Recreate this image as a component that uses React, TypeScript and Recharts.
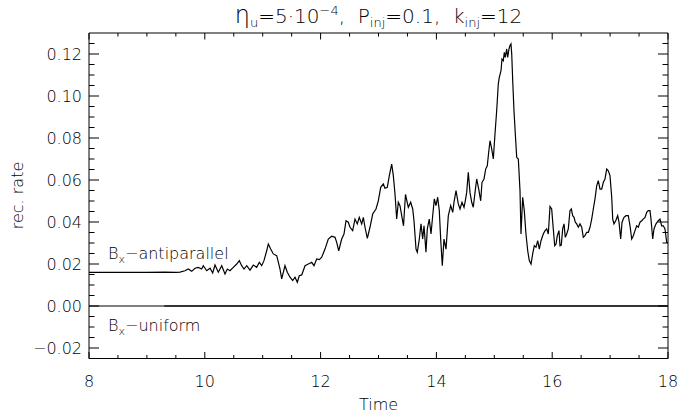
import React from "react"
import { LineChart, Line, XAxis, YAxis, ReferenceArea } from "recharts"

// axis ticks (minor every 0.5 / 0.005, labels on the majors)
const TIME_TICKS = [8, 8.5, 9, 9.5, 10, 10.5, 11, 11.5, 12, 12.5, 13, 13.5, 14, 14.5, 15, 15.5, 16, 16.5, 17, 17.5, 18]
const TIME_LABELS = [8, 10, 12, 14, 16, 18]
const RATE_TICKS = [
  -0.02, -0.015, -0.01, -0.005, 0, 0.005, 0.01, 0.015, 0.02, 0.025, 0.03, 0.035, 0.04, 0.045, 0.05,
  0.055, 0.06, 0.065, 0.07, 0.075, 0.08, 0.085, 0.09, 0.095, 0.1, 0.105, 0.11, 0.115, 0.12, 0.125,
]
const RATE_LABELS = [-0.02, 0, 0.02, 0.04, 0.06, 0.08, 0.1, 0.12]

// reconnection rate, Bx antiparallel run
const antiparallelTime = [
  8.0, 8.5, 9.0, 9.3, 9.5, 9.572, 9.658, 9.715, 9.774, 9.831, 9.888, 9.946, 9.974, 10.033, 10.09, 10.136,
  10.176, 10.233, 10.292, 10.349, 10.389, 10.435, 10.492, 10.551, 10.596, 10.637, 10.677, 10.724, 10.781,
  10.838, 10.896, 10.941, 10.983, 11.022, 11.069, 11.097, 11.138, 11.183, 11.242, 11.299, 11.328, 11.385,
  11.425, 11.472, 11.518, 11.558, 11.598, 11.632, 11.674, 11.731, 11.788, 11.846, 11.886, 11.933, 11.978,
  12.019, 12.076, 12.133, 12.192, 12.249, 12.278, 12.313, 12.364, 12.404, 12.439, 12.478, 12.508, 12.554,
  12.594, 12.634, 12.668, 12.71, 12.738, 12.767, 12.807, 12.853, 12.9, 12.957, 12.997, 13.038, 13.083,
  13.112, 13.152, 13.187, 13.228, 13.256, 13.285, 13.314, 13.342, 13.371, 13.401, 13.432, 13.466, 13.515,
  13.556, 13.591, 13.613, 13.648, 13.67, 13.705, 13.734, 13.763, 13.786, 13.82, 13.843, 13.877, 13.907,
  13.936, 13.964, 13.993, 14.022, 14.05, 14.074, 14.102, 14.131, 14.166, 14.206, 14.247, 14.282, 14.304,
  14.339, 14.378, 14.408, 14.442, 14.477, 14.499, 14.523, 14.551, 14.58, 14.61, 14.637, 14.667, 14.696,
  14.731, 14.765, 14.788, 14.822, 14.851, 14.879, 14.903, 14.926, 14.955, 14.983, 15.012, 15.041, 15.069,
  15.086, 15.116, 15.133, 15.155, 15.173, 15.19, 15.214, 15.231, 15.254, 15.271, 15.288, 15.301, 15.318,
  15.34, 15.363, 15.387, 15.415, 15.444, 15.461, 15.49, 15.518, 15.547, 15.577, 15.604, 15.634, 15.663,
  15.691, 15.72, 15.75, 15.777, 15.807, 15.846, 15.876, 15.905, 15.933, 15.962, 15.991, 16.019, 16.043,
  16.066, 16.088, 16.117, 16.135, 16.157, 16.181, 16.204, 16.226, 16.25, 16.278, 16.307, 16.33, 16.354,
  16.377, 16.399, 16.423, 16.451, 16.48, 16.51, 16.537, 16.566, 16.596, 16.624, 16.653, 16.682, 16.71,
  16.739, 16.769, 16.796, 16.826, 16.855, 16.883, 16.912, 16.941, 16.969, 16.998, 17.028, 17.045, 17.067,
  17.097, 17.131, 17.154, 17.183, 17.206, 17.24, 17.275, 17.314, 17.344, 17.373, 17.401, 17.43, 17.459,
  17.487, 17.516, 17.546, 17.573, 17.603, 17.632, 17.66, 17.689, 17.706, 17.736, 17.758, 17.793, 17.832,
  17.862, 17.891, 17.919, 17.948, 17.978, 18.0,
]
const antiparallelRate = [
  0.016, 0.016, 0.016, 0.0161, 0.016, 0.0161, 0.0168, 0.0176, 0.0165, 0.018, 0.0184, 0.0176, 0.0192, 0.0168,
  0.018, 0.0157, 0.0195, 0.0161, 0.0192, 0.0152, 0.0176, 0.0168, 0.0184, 0.02, 0.0216, 0.0192, 0.0176,
  0.0192, 0.0171, 0.0195, 0.0184, 0.0208, 0.0192, 0.0216, 0.0263, 0.0295, 0.0271, 0.0248, 0.024, 0.0176,
  0.0129, 0.0192, 0.0161, 0.0137, 0.0121, 0.0137, 0.0113, 0.0144, 0.0148, 0.0192, 0.02, 0.0208, 0.0192,
  0.0224, 0.0221, 0.0232, 0.0271, 0.0319, 0.0332, 0.0327, 0.0303, 0.0263, 0.0319, 0.0343, 0.0406, 0.0399,
  0.0375, 0.0359, 0.0414, 0.0391, 0.0422, 0.0391, 0.0422, 0.0375, 0.0322, 0.0375, 0.0438, 0.0462, 0.0501,
  0.0565, 0.0581, 0.0561, 0.0565, 0.0621, 0.0676, 0.0621, 0.0533, 0.0414, 0.0494, 0.0478, 0.043, 0.0382,
  0.0531, 0.047, 0.0494, 0.0462, 0.0406, 0.0271, 0.0256, 0.0319, 0.0391, 0.0319, 0.0382, 0.0256, 0.0367,
  0.0414, 0.0343, 0.043, 0.051, 0.0478, 0.0518, 0.0454, 0.0319, 0.0192, 0.0319, 0.0271, 0.043, 0.0478,
  0.0446, 0.0494, 0.0549, 0.0486, 0.0462, 0.0494, 0.047, 0.0501, 0.0541, 0.0637, 0.0541, 0.0494, 0.047,
  0.0541, 0.0605, 0.0557, 0.0501, 0.0589, 0.0605, 0.0652, 0.0668, 0.0732, 0.0787, 0.0748, 0.07, 0.0819,
  0.093, 0.1057, 0.1089, 0.1121, 0.1176, 0.1168, 0.1208, 0.1184, 0.1224, 0.1184, 0.1224, 0.124, 0.1248,
  0.12, 0.1073, 0.093, 0.0819, 0.0708, 0.07, 0.0549, 0.0343, 0.0518, 0.0454, 0.0343, 0.0263, 0.0216, 0.02,
  0.0248, 0.0287, 0.028, 0.0311, 0.0271, 0.0311, 0.0343, 0.0359, 0.0367, 0.0343, 0.0474, 0.0462, 0.0367,
  0.0287, 0.0295, 0.0335, 0.0359, 0.0287, 0.029, 0.0367, 0.0391, 0.0327, 0.0343, 0.0367, 0.0454, 0.0462,
  0.043, 0.0422, 0.0399, 0.0391, 0.0375, 0.0391, 0.0375, 0.0327, 0.0335, 0.0351, 0.0351, 0.0375, 0.0414,
  0.0462, 0.051, 0.0573, 0.0597, 0.0557, 0.0557, 0.0589, 0.0605, 0.0652, 0.0644, 0.0621, 0.0518, 0.0414,
  0.0391, 0.0406, 0.043, 0.0399, 0.0319, 0.0399, 0.0422, 0.043, 0.043, 0.0382, 0.0319, 0.0335, 0.0359,
  0.0382, 0.0375, 0.0399, 0.0406, 0.0414, 0.0422, 0.0446, 0.0454, 0.0454, 0.0414, 0.0319, 0.0367, 0.0391,
  0.0406, 0.0414, 0.0382, 0.0382, 0.0367, 0.0303, 0.03,
]

// Bx uniform run stays at zero (slightly noisy after t~9.3)
const uniformTime = [8, 9.3, 18]
const uniformRate = [0, 0, 0]

const WIDTH = 679
const HEIGHT = 414
const X_AXIS_H = 30
const Y_AXIS_W = 50
// plot box: left 89, right 668, top 33, bottom 358.5
const MARGIN = { top: 33, right: 11, bottom: 55.5 - X_AXIS_H, left: 89 - Y_AXIS_W }
const PLOT_TOP = MARGIN.top
const PLOT_RIGHT = WIDTH - MARGIN.right
const FONT = "DejaVu Sans"
const WEIGHT = 300
const INK = "#000"

const antiparallel = antiparallelTime.map((t, i) => ({ t, rate: antiparallelRate[i] }))
const uniform = uniformTime.map((t, i) => ({ t, rate: uniformRate[i] }))

const inList = (list: number[], v: number) => list.some((l) => Math.abs(l - v) < 1e-9)

// ticks point inward on all four sides, like the old IDL plots
// eslint-disable-next-line @typescript-eslint/no-explicit-any
const TimeTick = ({ x, y, payload }: any) => {
  const major = inList(TIME_LABELS, payload.value)
  const len = major ? 6.5 : 3.5
  return (
    <g>
      <line x1={x} y1={y} x2={x} y2={y - len} stroke={INK} />
      <line x1={x} y1={PLOT_TOP} x2={x} y2={PLOT_TOP + len} stroke={INK} />
      {major && (
        <text x={x} y={y + 28.5} textAnchor="middle" fontFamily={FONT} fontWeight={WEIGHT} fontSize={16} fill={INK}>
          {payload.value}
        </text>
      )}
    </g>
  )
}

// eslint-disable-next-line @typescript-eslint/no-explicit-any
const RateTick = ({ x, y, payload }: any) => {
  const major = inList(RATE_LABELS, payload.value)
  const len = major ? 10 : 5.5
  const label = payload.value.toFixed(2).replace("-", "\u2212")
  return (
    <g>
      <line x1={x} y1={y} x2={x + len} y2={y} stroke={INK} />
      <line x1={PLOT_RIGHT} y1={y} x2={PLOT_RIGHT - len} y2={y} stroke={INK} />
      {major && (
        <text x={x - 7} y={y + 5.5} textAnchor="end" fontFamily={FONT} fontWeight={WEIGHT} fontSize={16} fill={INK}>
          {label}
        </text>
      )}
    </g>
  )
}

export default function App() {
  return (
    <div style={{ position: "absolute", left: 0, top: 0, width: WIDTH, height: HEIGHT, background: "#fff" }}>
      <LineChart width={WIDTH} height={HEIGHT} margin={MARGIN}>
        <XAxis
          dataKey="t"
          type="number"
          domain={[8, 18]}
          allowDataOverflow
          ticks={TIME_TICKS}
          interval={0}
          height={X_AXIS_H}
          tickSize={0}
          tickMargin={0}
          tickLine={false}
          axisLine={false}
          // eslint-disable-next-line @typescript-eslint/no-explicit-any
          tick={(p: any) => <TimeTick {...p} />}
        />
        <YAxis
          type="number"
          domain={[-0.025, 0.13]}
          allowDataOverflow
          ticks={RATE_TICKS}
          interval={0}
          width={Y_AXIS_W}
          tickSize={0}
          tickMargin={0}
          tickLine={false}
          axisLine={false}
          // eslint-disable-next-line @typescript-eslint/no-explicit-any
          tick={(p: any) => <RateTick {...p} />}
        />
        <ReferenceArea
          x1={8}
          x2={18}
          y1={-0.025}
          y2={0.13}
          fill="none"
          stroke={INK}
          strokeWidth={1}
          ifOverflow="visible"
        />
        <Line
          data={uniform}
          dataKey="rate"
          type="linear"
          stroke={INK}
          strokeWidth={1.2}
          dot={false}
          isAnimationActive={false}
        />
        <Line
          data={uniform.slice(1)}
          dataKey="rate"
          type="linear"
          stroke="#333"
          strokeWidth={1.8}
          dot={false}
          isAnimationActive={false}
        />
        <Line
          data={antiparallel}
          dataKey="rate"
          type="linear"
          stroke={INK}
          strokeWidth={1.2}
          dot={false}
          isAnimationActive={false}
        />
      </LineChart>
      <svg
        width={WIDTH}
        height={HEIGHT}
        style={{ position: "absolute", left: 0, top: 0, pointerEvents: "none" }}
        fontFamily={FONT}
        fontWeight={WEIGHT}
        fill={INK}
      >
        <text x={378.5} y={23} textAnchor="middle" fontSize={20} style={{ whiteSpace: "pre" }}>
          <tspan fontSize={24}>η</tspan>
          <tspan fontSize={13} dy={4}>u</tspan>
          <tspan dy={-4}>=5·10</tspan>
          <tspan fontSize={13} dy={-8}>−4</tspan>
          <tspan dy={8}>,  P</tspan>
          <tspan fontSize={13} dy={4}>inj</tspan>
          <tspan dy={-4}>=0.1,  k</tspan>
          <tspan fontSize={13} dy={4}>inj</tspan>
          <tspan dy={-4}>=12</tspan>
        </text>
        <text transform="rotate(-90)" x={-195.5} y={23} textAnchor="middle" fontSize={16}>
          rec. rate
        </text>
        <text x={378.5} y={410} textAnchor="middle" fontSize={16}>
          Time
        </text>
        <text x={108} y={259} fontSize={16}>
          B<tspan fontSize={11} dy={4}>x</tspan>
          <tspan dy={-4}>−antiparallel</tspan>
        </text>
        <text x={108} y={331} fontSize={16}>
          B<tspan fontSize={11} dy={4}>x</tspan>
          <tspan dy={-4}>−uniform</tspan>
        </text>
      </svg>
    </div>
  )
}
